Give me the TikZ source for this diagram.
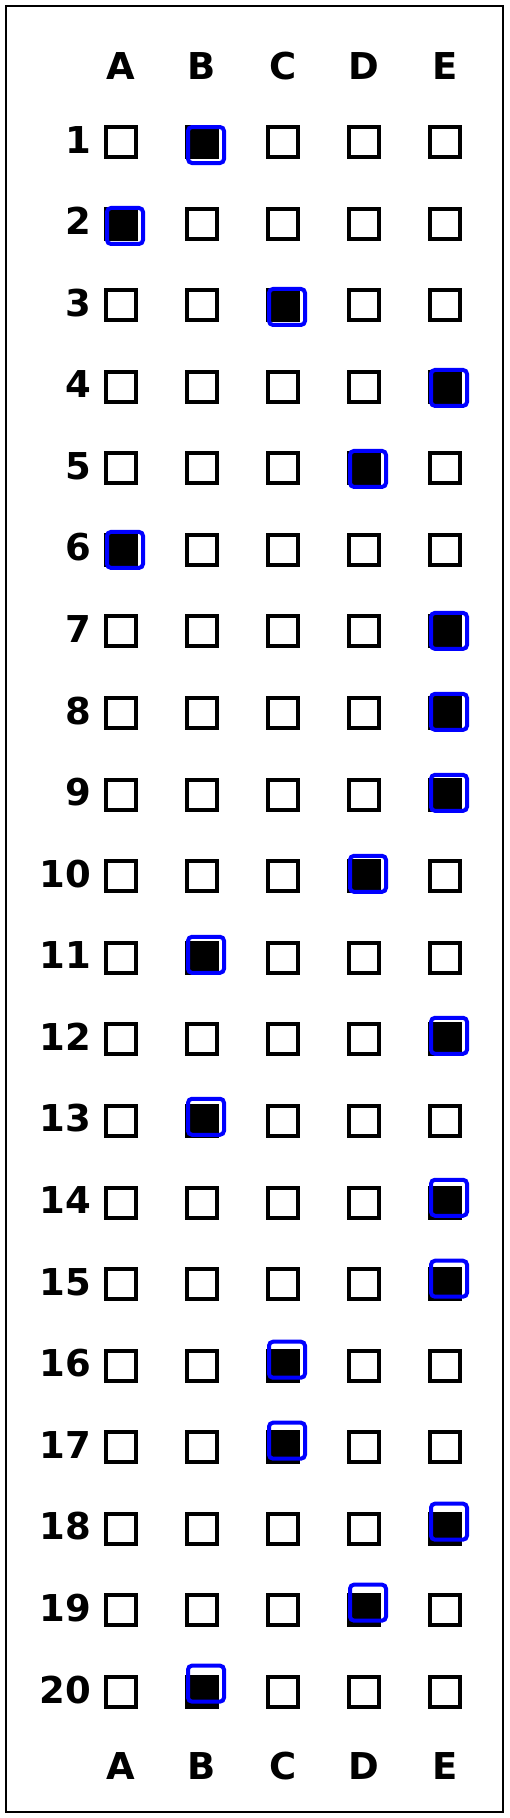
\documentclass[tikz,border=0pt]{standalone}
\usepackage{fontspec}
\setmainfont{DejaVu Sans}
\usetikzlibrary{positioning}

\begin{document}
\begin{tikzpicture}[x=1pt, y=-1pt,
	bubble/.style={draw, line width=4pt, minimum size=30pt, inner sep=0pt},
	answer/.style={draw=blue, line width=4pt, minimum size=36pt, inner sep=0pt, rounded corners=4pt},
	colhead/.style={anchor=base, inner sep=0pt, font=\fontsize{37}{40}\selectfont\bfseries},
	rowlabel/.style={anchor=base east, inner sep=0pt, font=\fontsize{37}{40}\selectfont\bfseries}]
	\useasboundingbox (0,0) rectangle (509,1818);
	\draw[line width=1.5pt] (6,6) rectangle (503,1812);
	\foreach \c [count=\i from 0] in {A,B,C,D,E} {
		\node[colhead] (top-\c) at (121+81*\i, 79) {\c};
		\node[colhead] (bot-\c) at (121+81*\i, 1779) {\c};
	}
	\foreach \r/\ans in {1/B, 2/A, 3/C, 4/E, 5/D, 6/A, 7/E, 8/E, 9/E, 10/D, 11/B, 12/E, 13/B, 14/E, 15/E, 16/C, 17/C, 18/E, 19/D, 20/B} {
		\pgfmathsetmacro\rowy{142+81.58*(\r-1)}
		\pgfmathsetmacro\dy{0.6*\r-3.6}
		\node[rowlabel] (n\r) at (91, \rowy+11) {\r};
		\foreach \c [count=\i from 0] in {A,B,C,D,E}
			\node[bubble] (q\r-\c) at (121+81*\i, \rowy) {};
		\fill (q\r-\ans.south west) rectangle (q\r-\ans.north east);
		\node[answer, xshift=4pt, yshift=\dy pt] (a\r) at (q\r-\ans) {};
	}
\end{tikzpicture}
\end{document}
